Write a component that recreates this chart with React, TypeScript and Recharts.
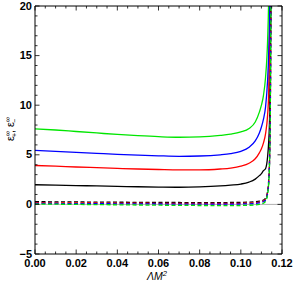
import React from "react";
import { LineChart, Line, XAxis, YAxis, ReferenceLine } from "recharts";

const xGrid = [0, 0.01, 0.02, 0.03, 0.04, 0.05, 0.06, 0.07, 0.08, 0.09, 0.095, 0.1, 0.104, 0.107, 0.109, 0.11, 0.111, 0.112, 0.113, 0.1135, 0.114, 0.1145, 0.115];

const plusBlack = [1.98, 1.94, 1.9, 1.86, 1.82, 1.78, 1.75, 1.73, 1.77, 1.87, 1.95, 2.05, 2.25, 2.55, 2.9, 3.1, 3.4, 3.6, 4.8, 6.2, 9, 20, 40];
const plusRed = [3.92, 3.85, 3.77, 3.7, 3.63, 3.57, 3.52, 3.48, 3.48, 3.57, 3.66, 3.85, 4.15, 4.6, 5.2, 5.6, 6.2, 7.1, 9.0, 11, 17, 25, 45];
const plusBlue = [5.45, 5.35, 5.25, 5.15, 5.05, 4.97, 4.9, 4.85, 4.88, 5.0, 5.12, 5.35, 5.75, 6.4, 7.2, 7.8, 8.6, 9.8, 12.5, 15, 20, 30, 50];
const plusGreen = [7.62, 7.5, 7.35, 7.2, 7.05, 6.93, 6.83, 6.77, 6.8, 6.95, 7.08, 7.3, 7.65, 8.3, 9.3, 10.0, 11.0, 12.8, 16.5, 20.5, 30, 50, 80];

const minusBlack = [0.27, 0.26, 0.25, 0.23, 0.22, 0.21, 0.2, 0.19, 0.18, 0.18, 0.19, 0.2, 0.23, 0.27, 0.32, 0.36, 0.44, 0.6, 1.3, 2.3, 5, 15, 40];
const minusRed = [0.17, 0.16, 0.15, 0.14, 0.13, 0.12, 0.11, 0.1, 0.09, 0.09, 0.1, 0.11, 0.13, 0.17, 0.22, 0.26, 0.34, 0.5, 1.2, 2.2, 4.9, 15, 40];
const minusBlue = [0.1, 0.09, 0.08, 0.07, 0.06, 0.05, 0.04, 0.03, 0.02, 0.02, 0.03, 0.04, 0.06, 0.1, 0.15, 0.19, 0.27, 0.43, 1.1, 2.1, 4.8, 15, 40];
const minusGreen = [0.03, 0.02, 0.0, -0.02, -0.04, -0.06, -0.08, -0.1, -0.11, -0.12, -0.12, -0.11, -0.09, -0.05, 0.0, 0.04, 0.12, 0.3, 1.0, 2.0, 4.7, 15, 40];

const xTicks = [0, 0.005, 0.01, 0.015, 0.02, 0.025, 0.03, 0.035, 0.04, 0.045, 0.05, 0.055, 0.06, 0.065, 0.07, 0.075, 0.08, 0.085, 0.09, 0.095, 0.1, 0.105, 0.11, 0.115, 0.12];
const yTicks = [-5, -4, -3, -2, -1, 0, 1, 2, 3, 4, 5, 6, 7, 8, 9, 10, 11, 12, 13, 14, 15, 16, 17, 18, 19, 20];

const data = xGrid.map((x, i) => ({
  x,
  pb: plusBlack[i],
  pr: plusRed[i],
  pu: plusBlue[i],
  pg: plusGreen[i],
  mb: minusBlack[i],
  mr: minusRed[i],
  mu: minusBlue[i],
  mg: minusGreen[i],
}));

const isMajor = (v: number, step: number) => Math.abs(v / step - Math.round(v / step)) < 1e-6;
const FONT = "Liberation Sans, Arial, sans-serif";

const BottomTick = (props: any) => {
  const { x, y, payload } = props;
  const v = payload.value;
  const major = isMajor(v, 0.02);
  return (
    <g>
      <line x1={x} y1={y} x2={x} y2={y - (major ? 4.5 : 2.5)} stroke="#000" strokeWidth={0.8} />
      {major && (
        <text x={x} y={y + 12.5} textAnchor="middle" fontFamily={FONT} fontWeight="bold" fontSize={11} fill="#000">
          {v.toFixed(2)}
        </text>
      )}
    </g>
  );
};

const TopTick = (props: any) => {
  const { x, y, payload } = props;
  const major = isMajor(payload.value, 0.02);
  return <line x1={x} y1={y} x2={x} y2={y + (major ? 4.5 : 2.5)} stroke="#000" strokeWidth={0.8} />;
};

const LeftTick = (props: any) => {
  const { x, y, payload } = props;
  const v = payload.value;
  const major = isMajor(v, 5);
  return (
    <g>
      <line x1={x} y1={y} x2={x + (major ? 4.5 : 2.5)} y2={y} stroke="#000" strokeWidth={0.8} />
      {major && (
        <text x={x - 3} y={y + 3.5} textAnchor="end" fontFamily={FONT} fontWeight="bold" fontSize={11} fill="#000">
          {v < 0 ? "\u2212" + Math.abs(v) : String(v)}
        </text>
      )}
    </g>
  );
};

const RightTick = (props: any) => {
  const { x, y, payload } = props;
  const major = isMajor(payload.value, 5);
  return <line x1={x} y1={y} x2={x - (major ? 4.5 : 2.5)} y2={y} stroke="#000" strokeWidth={0.8} />;
};

const XLabel = () => (
  <text x={157} y={280} textAnchor="middle" fontFamily={FONT} fontStyle="italic" fontSize={10.5} fill="#000">
    ΛM<tspan dy={-4} fontSize={7.5}>2</tspan>
  </text>
);

const YLabel = () => (
  <text transform="translate(14,129) rotate(-90)" textAnchor="middle" fontFamily={FONT} fontSize={11} fill="#000">
    ε<tspan dy={-4} fontSize={7}>∞</tspan>
    <tspan dx={-6} dy={7} fontSize={7}>+</tspan>
    <tspan dy={-3}>, ε</tspan>
    <tspan dy={-4} fontSize={7}>∞</tspan>
    <tspan dx={-6} dy={7} fontSize={7}>−</tspan>
  </text>
);

const solid = [
  { key: "pb", color: "#000000" },
  { key: "pr", color: "#ff0000" },
  { key: "pu", color: "#0000ff" },
  { key: "pg", color: "#00e600" },
];
const dashed = [
  { key: "mb", color: "#000000" },
  { key: "mr", color: "#ff0000" },
  { key: "mu", color: "#0000ff" },
  { key: "mg", color: "#00e600" },
];

export default function App() {
  return (
    <div style={{ position: "absolute", left: 0, top: 0, width: 294, height: 290, background: "#fff" }}>
      <LineChart width={294} height={290} data={data} margin={{ top: 0, right: 0, bottom: 0, left: 0 }}>
        <XAxis
          dataKey="x"
          type="number"
          domain={[0, 0.12]}
          ticks={xTicks}
          interval={0}
          allowDataOverflow
          height={36}
          tickSize={0}
          tickMargin={0}
          tickLine={false}
          tick={<BottomTick />}
          axisLine={{ stroke: "#000", strokeWidth: 1 }}
          label={<XLabel />}
        />
        <XAxis
          xAxisId="top"
          orientation="top"
          dataKey="x"
          type="number"
          domain={[0, 0.12]}
          ticks={xTicks}
          interval={0}
          allowDataOverflow
          height={6}
          tickSize={0}
          tickMargin={0}
          tickLine={false}
          tick={<TopTick />}
          axisLine={{ stroke: "#000", strokeWidth: 1 }}
        />
        <YAxis
          type="number"
          domain={[-5, 20]}
          ticks={yTicks}
          interval={0}
          allowDataOverflow
          width={35}
          tickSize={0}
          tickMargin={0}
          tickLine={false}
          tick={<LeftTick />}
          axisLine={{ stroke: "#000", strokeWidth: 1 }}
          label={<YLabel />}
        />
        <YAxis
          yAxisId="right"
          orientation="right"
          type="number"
          domain={[-5, 20]}
          ticks={yTicks}
          interval={0}
          allowDataOverflow
          width={12}
          tickSize={0}
          tickMargin={0}
          tickLine={false}
          tick={<RightTick />}
          axisLine={{ stroke: "#000", strokeWidth: 1 }}
        />
        <ReferenceLine y={0} stroke="#b0b0b0" strokeWidth={1} />
        {solid.map((s) => (
          <Line key={s.key} type="monotone" dataKey={s.key} stroke={s.color} strokeWidth={1.3} dot={false} isAnimationActive={false} />
        ))}
        {dashed.map((s) => (
          <Line key={s.key} type="monotone" dataKey={s.key} stroke={s.color} strokeWidth={1.3} strokeDasharray="4 2.5" dot={false} isAnimationActive={false} />
        ))}
      </LineChart>
    </div>
  );
}
